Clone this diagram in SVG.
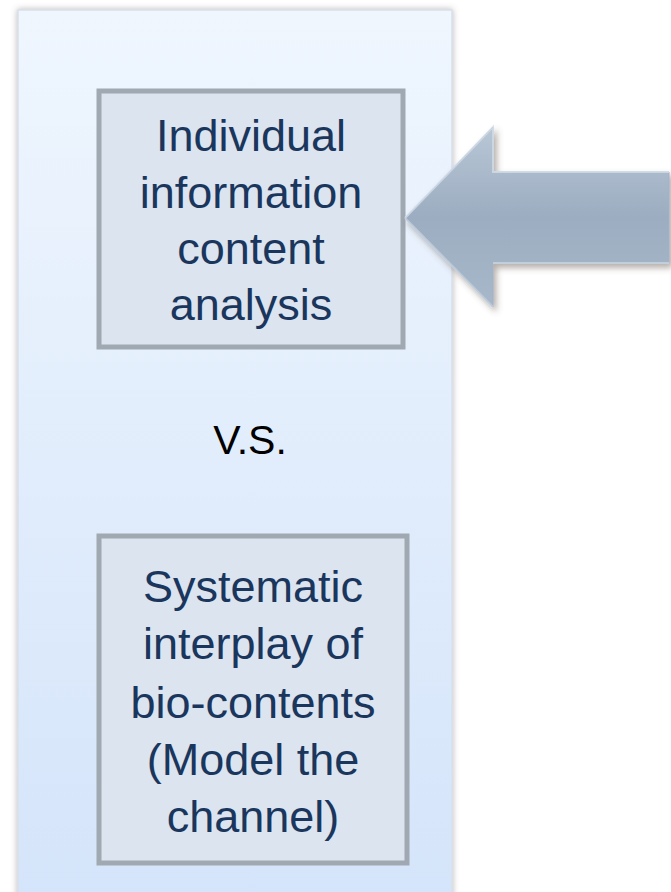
<svg xmlns="http://www.w3.org/2000/svg" width="671" height="892" viewBox="0 0 671 892">
<defs>
<linearGradient id="panelGrad" x1="0" y1="0" x2="0" y2="1">
<stop offset="0" stop-color="#eff6fe"/>
<stop offset="1" stop-color="#d4e4fa"/>
</linearGradient>
<linearGradient id="arrowGrad" x1="0" y1="0" x2="0" y2="1">
<stop offset="0" stop-color="#b9c7d6"/>
<stop offset="0.5" stop-color="#9cadc1"/>
<stop offset="1" stop-color="#a8b8ca"/>
</linearGradient>
<filter id="shadow" x="-10%" y="-10%" width="120%" height="120%">
<feGaussianBlur in="SourceAlpha" stdDeviation="3"/>
<feOffset dx="0" dy="0" result="b"/>
<feFlood flood-color="#6b5a4e" flood-opacity="0.45"/>
<feComposite in2="b" operator="in"/>
<feMerge><feMergeNode/><feMergeNode in="SourceGraphic"/></feMerge>
</filter>
<filter id="arrowShadow" x="-10%" y="-10%" width="130%" height="130%">
<feGaussianBlur in="SourceAlpha" stdDeviation="3"/>
<feOffset dx="3" dy="4" result="b"/>
<feFlood flood-color="#5a4a40" flood-opacity="0.45"/>
<feComposite in2="b" operator="in"/>
<feMerge><feMergeNode/><feMergeNode in="SourceGraphic"/></feMerge>
</filter>
</defs>
<style>
.box{fill:#dbe4ef;stroke:#a0a8b2;stroke-width:5}
.lbl{font-family:"Liberation Sans",Arial,sans-serif;font-size:45px;fill:#1a365d;text-anchor:middle}
.vs{font-family:"Liberation Sans",Arial,sans-serif;font-size:41px;fill:#000;text-anchor:middle}
</style>
<rect width="671" height="892" fill="#ffffff"/>
<g id="panel">
<rect x="18" y="10" width="434" height="900" fill="url(#panelGrad)" stroke="#d6e0ec" stroke-width="1.5" filter="url(#shadow)"/>
</g>
<g id="node-individual">
<rect class="box" x="99" y="91" width="304" height="256"/>
<text class="lbl" x="251" y="151">Individual</text>
<text class="lbl" x="251" y="208">information</text>
<text class="lbl" x="251" y="264">content</text>
<text class="lbl" x="251" y="320">analysis</text>
</g>
<g id="label-vs">
<text class="vs" x="250" y="454">V.S.</text>
</g>
<g id="node-systematic">
<rect class="box" x="99" y="536" width="308" height="327"/>
<text class="lbl" x="253" y="602">Systematic</text>
<text class="lbl" x="253" y="659">interplay of</text>
<text class="lbl" x="253" y="718">bio-contents</text>
<text class="lbl" x="253" y="775">(Model the</text>
<text class="lbl" x="253" y="832">channel)</text>
</g>
<g id="connectors">
<g filter="url(#arrowShadow)">
<polygon points="405,218 493,127 493,172 669,172 669,263 493,263 493,307" fill="url(#arrowGrad)" stroke="#a3b2c4" stroke-width="1"/>
<polyline points="405,218 493,127 493,172 669,172" fill="none" stroke="#d3dde9" stroke-width="2" opacity="0.8"/>
<polyline points="405,218 493,307" fill="none" stroke="#c3cfdd" stroke-width="2" opacity="0.8"/>
<polyline points="493,263 669,263" fill="none" stroke="#c8d3e0" stroke-width="2" opacity="0.8"/>
</g>
</g>
</svg>
